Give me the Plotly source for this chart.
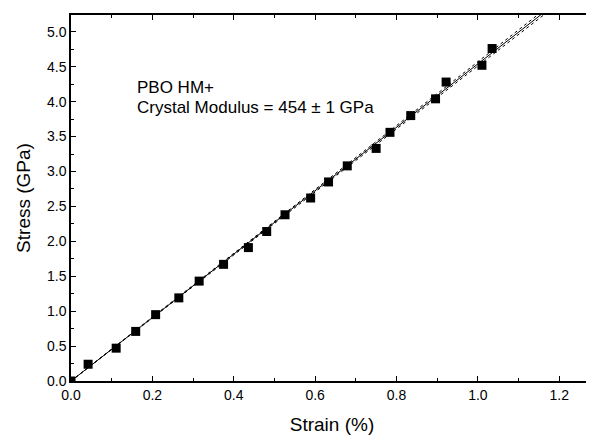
import numpy as np
import plotly.graph_objects as go

strain = [0.0, 0.042, 0.111, 0.159, 0.208, 0.265, 0.315, 0.375, 0.436, 0.481,
          0.526, 0.589, 0.633, 0.679, 0.750, 0.784, 0.835, 0.896, 0.922, 1.010, 1.035]
stress = [0.0, 0.24, 0.47, 0.71, 0.95, 1.19, 1.43, 1.67, 1.91, 2.14,
          2.38, 2.62, 2.85, 3.08, 3.33, 3.56, 3.80, 4.04, 4.28, 4.52, 4.76]

modulus = 454.0      # GPa (slope in GPa per % strain = modulus/100)
modulus_err = 1.0
x_fit = [0.0, 1.17]
fit_lines = {
    "fit": (modulus / 100.0, "solid", 1.0),
    "upper": ((modulus + 3 * modulus_err) / 100.0, "dot", 1.0),
    "lower": ((modulus - 3 * modulus_err) / 100.0, "dot", 1.0),
}

fig = go.Figure()
for name, (slope, dash, w) in fit_lines.items():
    fig.add_trace(go.Scatter(x=x_fit, y=[slope * v for v in x_fit], mode="lines",
                             line=dict(color="black", width=w, dash=dash),
                             showlegend=False, hoverinfo="skip"))
fig.add_trace(go.Scatter(x=strain, y=stress, mode="markers",
                         marker=dict(symbol="square", size=9, color="black"),
                         showlegend=False, cliponaxis=True))

font = "Liberation Sans, Arial, sans-serif"
axis_common = dict(showgrid=False, zeroline=False, showline=True, linecolor="black",
                   linewidth=1.5, mirror="allticks", ticks="inside", ticklen=5,
                   tickwidth=1, tickcolor="black", automargin=False,
                   tickfont=dict(family=font, size=14, color="black"))
fig.update_xaxes(range=[0, 1.283], tick0=0, dtick=0.2, tickformat=".1f",
                 minor=dict(ticks="inside", dtick=0.1, ticklen=3, tickcolor="black"),
                 title=dict(text="Strain (%)", font=dict(family=font, size=19, color="black"),
                            standoff=16),
                 **axis_common)
fig.update_yaxes(range=[0, 5.24], tick0=0, dtick=0.5, tickformat=".1f",
                 minor=dict(ticks="inside", dtick=0.25, ticklen=3, tickcolor="black"),
                 title=dict(text="Stress (GPa)", font=dict(family=font, size=19, color="black"),
                            standoff=11),
                 **axis_common)

fig.add_annotation(x=0.157, y=4.20, xref="x", yref="y", text="PBO HM+",
                   showarrow=False, xanchor="left", yanchor="middle",
                   font=dict(family=font, size=17, color="black"))
fig.add_annotation(x=0.157, y=3.91, xref="x", yref="y",
                   text=f"Crystal Modulus = {modulus:.0f} ± {modulus_err:.0f} GPa",
                   showarrow=False, xanchor="left", yanchor="middle",
                   font=dict(family=font, size=17, color="black"))

fig.update_layout(width=594, height=435, margin=dict(l=63, r=9, t=7, b=62),
                  plot_bgcolor="white", paper_bgcolor="white")
fig.write_html("out.html")
